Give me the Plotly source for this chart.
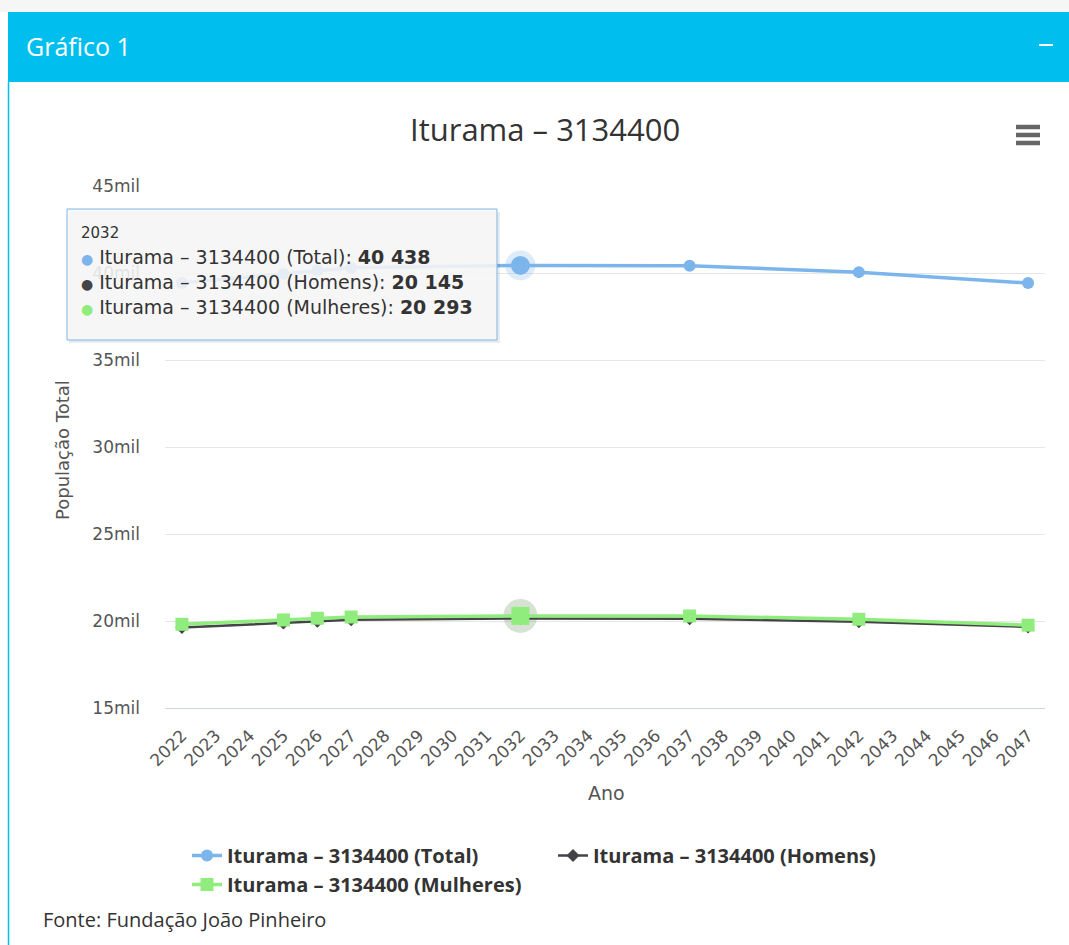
import plotly.graph_objects as go

# ---- data ----
categories = ["2022", "2023", "2024", "2025", "2026", "2027", "2028", "2029", "2030",
              "2031", "2032", "2033", "2034", "2035", "2036", "2037", "2038", "2039",
              "2040", "2041", "2042", "2043", "2044", "2045", "2046", "2047"]
years = ["2022", "2025", "2026", "2027", "2032", "2037", "2042", "2047"]
total = [39430, 39940, 40150, 40300, 40438, 40420, 40050, 39420]
homens = [19620, 19880, 19990, 20070, 20145, 20130, 19950, 19660]
mulheres = [19810, 20060, 20160, 20230, 20293, 20290, 20100, 19760]
ytick_vals = [15000, 20000, 25000, 30000, 35000, 40000, 45000]
ytick_text = ["15mil", "20mil", "25mil", "30mil", "35mil", "40mil", "45mil"]
hover_idx = 4  # 2032

names = ["Iturama – 3134400 (Total)", "Iturama – 3134400 (Homens)", "Iturama – 3134400 (Mulheres)"]
colors = ["#7cb5ec", "#434348", "#90ed7d"]

W_FIG, H_FIG = 1069, 945
L, R, T, B = 165, 1045, 186, 708
PW, PH = R - L, B - T


def X(px):
    return (px - L) / PW


def Y(py):
    return (B - py) / PH


fig = go.Figure()

# halos for hovered points
fig.add_trace(go.Scatter(x=[years[hover_idx]], y=[total[hover_idx]], mode="markers",
                         marker=dict(size=30, color=colors[0], opacity=0.25, line=dict(width=0)),
                         showlegend=False, hoverinfo="skip"))
fig.add_trace(go.Scatter(x=[years[hover_idx]], y=[mulheres[hover_idx]], mode="markers",
                         marker=dict(size=34, color="#7a9a70", opacity=0.3, line=dict(width=0)),
                         showlegend=False, hoverinfo="skip"))

fig.add_trace(go.Scatter(x=years, y=total, name=names[0], mode="lines+markers",
                         line=dict(color=colors[0], width=3.5),
                         marker=dict(symbol="circle", size=12, color=colors[0])))
fig.add_trace(go.Scatter(x=years, y=homens, name=names[1], mode="lines+markers",
                         line=dict(color=colors[1], width=2.5),
                         marker=dict(symbol="diamond", size=10, color=colors[1])))
fig.add_trace(go.Scatter(x=years, y=mulheres, name=names[2], mode="lines+markers",
                         line=dict(color=colors[2], width=3.5),
                         marker=dict(symbol="square", size=13, color=colors[2])))

# enlarged hovered points
fig.add_trace(go.Scatter(x=[years[hover_idx]], y=[total[hover_idx]], mode="markers",
                         marker=dict(size=19, color=colors[0], symbol="circle"),
                         showlegend=False, hoverinfo="skip"))
fig.add_trace(go.Scatter(x=[years[hover_idx]], y=[mulheres[hover_idx]], mode="markers",
                         marker=dict(size=18, color=colors[2], symbol="square"),
                         showlegend=False, hoverinfo="skip"))

shapes = []
# top strip and header
shapes.append(dict(type="rect", xref="paper", yref="paper", x0=X(0), x1=X(W_FIG), y0=Y(12), y1=Y(0),
                   fillcolor="#f6f6f6", line=dict(width=0), layer="below"))
shapes.append(dict(type="rect", xref="paper", yref="paper", x0=X(8), x1=X(W_FIG + 5), y0=Y(82), y1=Y(12),
                   fillcolor="#00bfee", line=dict(width=0), layer="below"))
shapes.append(dict(type="line", xref="paper", yref="paper", x0=X(8.5), x1=X(8.5), y0=Y(W_FIG * 2), y1=Y(82),
                   line=dict(color="#00bfee", width=1.5), layer="below"))
# minus sign in header
shapes.append(dict(type="line", xref="paper", yref="paper", x0=X(1039), x1=X(1053), y0=Y(45), y1=Y(45),
                   line=dict(color="white", width=2)))
# hamburger icon
for yy in (127, 135, 143):
    shapes.append(dict(type="line", xref="paper", yref="paper", x0=X(1016), x1=X(1040), y0=Y(yy), y1=Y(yy),
                       line=dict(color="#666666", width=4.5)))
# tooltip shadow and box
shapes.append(dict(type="rect", xref="paper", yref="paper", x0=X(69), x1=X(500), y0=Y(343), y1=Y(212),
                   fillcolor="rgba(0,0,0,0.08)", line=dict(width=0), layer="above"))
shapes.append(dict(type="rect", xref="paper", yref="paper", x0=X(67), x1=X(497), y0=Y(340), y1=Y(209),
                   fillcolor="rgba(247,247,247,0.88)", line=dict(color="#7cb5ec", width=1), layer="above"))

annotations = []
annotations.append(dict(text="Gráfico 1", xref="paper", yref="paper", x=X(24), y=Y(46), xanchor="left",
                        yanchor="middle", showarrow=False, font=dict(family="Open Sans", size=25, color="white")))
annotations.append(dict(text="Iturama – 3134400", xref="paper", yref="paper", x=X(545), y=Y(129),
                        xanchor="center", yanchor="middle", showarrow=False,
                        font=dict(family="Open Sans", size=31, color="#333333")))
annotations.append(dict(text="População Total", xref="paper", yref="paper", x=X(62), y=Y(450),
                        xanchor="center", yanchor="middle", textangle=-90, showarrow=False,
                        font=dict(family="DejaVu Sans", size=18, color="#555555")))
annotations.append(dict(text="Ano", xref="paper", yref="paper", x=X(606), y=Y(793),
                        xanchor="center", yanchor="middle", showarrow=False,
                        font=dict(family="DejaVu Sans", size=19, color="#555555")))
annotations.append(dict(text="Fonte: Fundação João Pinheiro", xref="paper", yref="paper", x=X(41), y=Y(920),
                        xanchor="left", yanchor="middle", showarrow=False,
                        font=dict(family="Open Sans", size=20, color="#333333")))


def fmt(v):
    return f"{v:,}".replace(",", " ")


annotations.append(dict(text=years[hover_idx], xref="paper", yref="paper", x=X(79), y=Y(233),
                        xanchor="left", yanchor="middle", showarrow=False,
                        font=dict(family="DejaVu Sans", size=15, color="#333333")))
series_vals = [total, homens, mulheres]
for i, (nm, col, vals) in enumerate(zip(names, colors, series_vals)):
    yy = 257 + 25 * i
    annotations.append(dict(text=f"<span style='color:{col};font-size:14px'>●</span> {nm}: <b>{fmt(vals[hover_idx])}</b>",
                            xref="paper", yref="paper", x=X(79), y=Y(yy), xanchor="left", yanchor="middle",
                            showarrow=False, font=dict(family="DejaVu Sans", size=19, color="#333333")))

fig.update_layout(
    width=W_FIG, height=H_FIG,
    margin=dict(l=L, r=W_FIG - R, t=T, b=H_FIG - B),
    paper_bgcolor="white", plot_bgcolor="white",
    shapes=shapes, annotations=annotations,
    showlegend=True,
    legend=dict(orientation="h", x=X(187), y=Y(836), xanchor="left", yanchor="top",
                entrywidth=321, entrywidthmode="pixels", itemwidth=30,
                font=dict(family="Open Sans", size=20, color="#333333", weight="bold"),
                bgcolor="rgba(0,0,0,0)"),
    xaxis=dict(type="category", categoryorder="array", categoryarray=categories,
               tickvals=categories, ticktext=categories,
               range=[-0.5, len(categories) - 0.5], tickangle=-45,
               showgrid=False, showline=True, linecolor="#ccd6eb", linewidth=1,
               ticks="outside", ticklen=10, tickcolor="rgba(0,0,0,0)",
               tickfont=dict(family="DejaVu Sans", size=17, color="#555555"),
               zeroline=False),
    yaxis=dict(range=[15000, 45000], tickvals=ytick_vals, ticktext=ytick_text,
               showgrid=True, gridcolor="#e6e6e6", gridwidth=1, zeroline=False,
               showline=False, ticks="", ticklabelstandoff=24,
               tickfont=dict(family="DejaVu Sans", size=17, color="#555555")),
    hovermode=False,
)

fig.write_html("out.html", config={"displayModeBar": False},
               post_script="document.body.style.margin='0';")
